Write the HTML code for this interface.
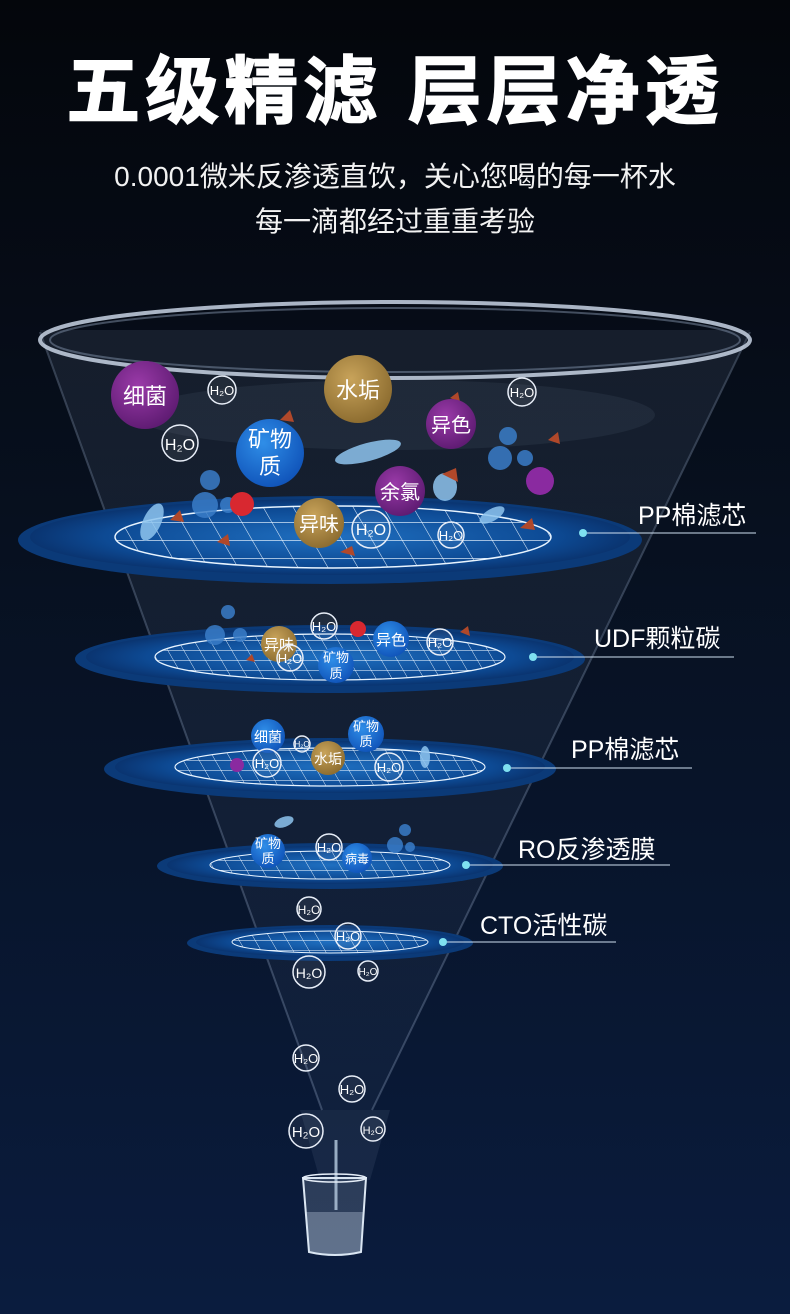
<!DOCTYPE html>
<html><head><meta charset="utf-8"><style>
html,body{margin:0;padding:0;background:#050810;}
svg{display:block}
text{font-family:"Liberation Sans","Noto Sans CJK SC",sans-serif;}
</style></head><body>
<svg width="790" height="1314" viewBox="0 0 790 1314" xmlns="http://www.w3.org/2000/svg">
<defs>
<linearGradient id="bg" x1="0" y1="0" x2="0" y2="1">
<stop offset="0" stop-color="#04060b"/><stop offset="0.4" stop-color="#07101f"/><stop offset="1" stop-color="#0a1c3e"/></linearGradient>
<linearGradient id="cone" x1="0" y1="0" x2="0" y2="1">
<stop offset="0" stop-color="#8aa0c0" stop-opacity="0.12"/><stop offset="1" stop-color="#8aa0c0" stop-opacity="0.05"/></linearGradient>
<radialGradient id="disc" cx="0.5" cy="0.5" r="0.5">
<stop offset="0" stop-color="#1f6fc0"/><stop offset="0.75" stop-color="#0d4a94"/><stop offset="1" stop-color="#0a3470"/></radialGradient>
<radialGradient id="purple" cx="0.4" cy="0.35" r="0.7"><stop offset="0" stop-color="#9a3aa8"/><stop offset="1" stop-color="#5c1a70"/></radialGradient>
<radialGradient id="gold" cx="0.4" cy="0.35" r="0.7"><stop offset="0" stop-color="#c8a35a"/><stop offset="1" stop-color="#8a6a2e"/></radialGradient>
<radialGradient id="blue" cx="0.4" cy="0.35" r="0.7"><stop offset="0" stop-color="#2f8ee8"/><stop offset="1" stop-color="#0f52b8"/></radialGradient>
<pattern id="grid" width="30" height="18" patternUnits="userSpaceOnUse" patternTransform="skewX(30)">
<path d="M0 0H30M0 0V18" stroke="#e8f4ff" stroke-width="1.2" fill="none"/></pattern>
<pattern id="grids" width="16" height="10" patternUnits="userSpaceOnUse" patternTransform="skewX(30)">
<path d="M0 0H16M0 0V10" stroke="#e8f4ff" stroke-width="1" fill="none"/></pattern>
</defs>
<rect width="790" height="1314" fill="url(#bg)"/>
<polygon points="40,330 750,330 372,1110 322,1110" fill="url(#cone)"/>
<line x1="40" y1="332" x2="322" y2="1110" stroke="#9fb4d0" stroke-opacity="0.3" stroke-width="2"/>
<line x1="750" y1="332" x2="372" y2="1110" stroke="#9fb4d0" stroke-opacity="0.3" stroke-width="2"/>
<ellipse cx="395" cy="415" rx="260" ry="35" fill="#6a7a90" fill-opacity="0.12"/>
<ellipse cx="395" cy="340" rx="355" ry="38" fill="none" stroke="#c8d4e4" stroke-width="4" stroke-opacity="0.85"/>
<ellipse cx="395" cy="340" rx="345" ry="32" fill="none" stroke="#8090a8" stroke-width="2" stroke-opacity="0.5"/>
<polygon points="300,1110 390,1110 370,1180 320,1180" fill="#c0d4ee" fill-opacity="0.08"/>

<text x="395" y="117" font-size="74" font-weight="bold" fill="#fff" text-anchor="middle" letter-spacing="5" stroke="#fff" stroke-width="1.5">五级精滤 层层净透</text>
<text x="395" y="186" font-size="28" fill="#f2f2f2" text-anchor="middle">0.0001微米反渗透直饮，关心您喝的每一杯水</text>
<text x="395" y="231" font-size="28" fill="#f2f2f2" text-anchor="middle">每一滴都经过重重考验</text>

<g>
<ellipse cx="330" cy="540" rx="312" ry="44" fill="#0b3a78"/>
<ellipse cx="330" cy="537" rx="300" ry="38" fill="url(#disc)"/>
<clipPath id="c1"><ellipse cx="333" cy="537" rx="218" ry="31"/></clipPath>
<rect x="100" y="500" width="470" height="80" fill="url(#grid)" clip-path="url(#c1)"/>
<ellipse cx="333" cy="537" rx="218" ry="31" fill="none" stroke="#e8f4ff" stroke-width="1.5"/>
</g>
<g>
<ellipse cx="330" cy="659" rx="255" ry="34" fill="#0b3a78"/>
<ellipse cx="330" cy="657" rx="244" ry="29" fill="url(#disc)"/>
<clipPath id="c2"><ellipse cx="330" cy="657" rx="175" ry="23"/></clipPath>
<rect x="150" y="630" width="360" height="60" fill="url(#grids)" clip-path="url(#c2)"/>
<ellipse cx="330" cy="657" rx="175" ry="23" fill="none" stroke="#e8f4ff" stroke-width="1.2"/>
</g>
<g>
<ellipse cx="330" cy="769" rx="226" ry="31" fill="#0b3a78"/>
<ellipse cx="330" cy="767" rx="215" ry="26" fill="url(#disc)"/>
<clipPath id="c3"><ellipse cx="330" cy="767" rx="155" ry="19"/></clipPath>
<rect x="170" y="745" width="320" height="45" fill="url(#grids)" clip-path="url(#c3)"/>
<ellipse cx="330" cy="767" rx="155" ry="19" fill="none" stroke="#e8f4ff" stroke-width="1.2"/>
</g>
<g>
<ellipse cx="330" cy="866" rx="173" ry="23" fill="#0b3a78"/>
<ellipse cx="330" cy="865" rx="163" ry="19" fill="url(#disc)"/>
<clipPath id="c4"><ellipse cx="330" cy="865" rx="120" ry="14"/></clipPath>
<rect x="205" y="848" width="250" height="35" fill="url(#grids)" clip-path="url(#c4)"/>
<ellipse cx="330" cy="865" rx="120" ry="14" fill="none" stroke="#e8f4ff" stroke-width="1"/>
</g>
<g>
<ellipse cx="330" cy="943" rx="143" ry="18" fill="#0b3a78"/>
<ellipse cx="330" cy="942" rx="134" ry="15" fill="url(#disc)"/>
<clipPath id="c5"><ellipse cx="330" cy="942" rx="98" ry="11"/></clipPath>
<rect x="228" y="928" width="205" height="28" fill="url(#grids)" clip-path="url(#c5)"/>
<ellipse cx="330" cy="942" rx="98" ry="11" fill="none" stroke="#e8f4ff" stroke-width="1"/>
</g>

<g fill="#fff" font-size="25">
<text x="638" y="524">PP棉滤芯</text>
<text x="594" y="647">UDF颗粒碳</text>
<text x="571" y="758">PP棉滤芯</text>
<text x="518" y="858">RO反渗透膜</text>
<text x="480" y="934">CTO活性碳</text>
</g>
<g stroke="#cfe0f0" stroke-width="1">
<line x1="583" y1="533" x2="756" y2="533"/>
<line x1="533" y1="657" x2="734" y2="657"/>
<line x1="507" y1="768" x2="692" y2="768"/>
<line x1="466" y1="865" x2="670" y2="865"/>
<line x1="443" y1="942" x2="616" y2="942"/>
</g>
<g fill="#7fe0f0">
<circle cx="583" cy="533" r="4"/><circle cx="533" cy="657" r="4"/><circle cx="507" cy="768" r="4"/><circle cx="466" cy="865" r="4"/><circle cx="443" cy="942" r="4"/>
</g>

<g fill="#3a7cc8" fill-opacity="0.85">
<circle cx="210" cy="480" r="10"/><circle cx="205" cy="505" r="13"/><circle cx="228" cy="505" r="8"/>
<circle cx="508" cy="436" r="9"/><circle cx="500" cy="458" r="12"/><circle cx="525" cy="458" r="8"/>
<circle cx="215" cy="635" r="10"/><circle cx="228" cy="612" r="7"/><circle cx="240" cy="635" r="7"/>
<circle cx="395" cy="845" r="8"/><circle cx="405" cy="830" r="6"/><circle cx="410" cy="847" r="5"/>
</g>
<circle cx="242" cy="504" r="12" fill="#d82830"/>
<circle cx="358" cy="629" r="8" fill="#d82830"/>
<circle cx="540" cy="481" r="14" fill="#8a2aa0"/>
<circle cx="237" cy="765" r="7" fill="#8a2aa0"/>
<g fill="#8ec4ee" fill-opacity="0.85">
<ellipse cx="368" cy="452" rx="34" ry="9" transform="rotate(-15 368 452)"/>
<ellipse cx="152" cy="522" rx="9" ry="20" transform="rotate(25 152 522)"/>
<ellipse cx="492" cy="515" rx="14" ry="6" transform="rotate(-30 492 515)"/>
<ellipse cx="445" cy="487" rx="12" ry="14"/>
<ellipse cx="425" cy="757" rx="5" ry="11"/>
<ellipse cx="284" cy="822" rx="10" ry="5" transform="rotate(-20 284 822)"/>
</g>
<g fill="#b0482a">
<polygon points="280,420 290,410 294,422"/><polygon points="170,520 180,510 184,522"/><polygon points="217,542 228,534 230,546"/>
<polygon points="548,440 558,432 560,444"/><polygon points="520,528 532,518 535,530"/><polygon points="442,474 456,468 458,482"/>
<polygon points="340,552 352,546 355,556"/><polygon points="460,632 468,626 470,636"/><polygon points="246,660 252,654 255,662"/>
<polygon points="450,398 458,392 460,402"/>
</g>

<g font-size="22" fill="#fff" text-anchor="middle">
<circle cx="145" cy="395" r="34" fill="url(#purple)"/><text x="145" y="404">细菌</text>
<circle cx="358" cy="389" r="34" fill="url(#gold)"/><text x="358" y="398">水垢</text>
<circle cx="270" cy="453" r="34" fill="url(#blue)"/><text x="270" y="447">矿物</text><text x="270" y="474">质</text>
<circle cx="451" cy="424" r="25" fill="url(#purple)"/><text x="451" y="432" font-size="20">异色</text>
<circle cx="400" cy="491" r="25" fill="url(#purple)"/><text x="400" y="499" font-size="20">余氯</text>
<circle cx="319" cy="523" r="25" fill="url(#gold)"/><text x="319" y="531" font-size="20">异味</text>
<circle cx="279" cy="644" r="18" fill="url(#gold)"/><text x="279" y="650" font-size="15">异味</text>
<circle cx="391" cy="639" r="18" fill="url(#blue)"/><text x="391" y="645" font-size="15">异色</text>
<circle cx="336" cy="665" r="18" fill="url(#blue)"/><text x="336" y="662" font-size="13">矿物</text><text x="336" y="678" font-size="13">质</text>
<circle cx="268" cy="736" r="17" fill="url(#blue)"/><text x="268" y="742" font-size="14">细菌</text>
<circle cx="366" cy="734" r="18" fill="url(#blue)"/><text x="366" y="731" font-size="13">矿物</text><text x="366" y="746" font-size="13">质</text>
<circle cx="328" cy="758" r="17" fill="url(#gold)"/><text x="328" y="764" font-size="14">水垢</text>
<circle cx="268" cy="851" r="17" fill="url(#blue)"/><text x="268" y="848" font-size="13">矿物</text><text x="268" y="863" font-size="13">质</text>
<circle cx="357" cy="858" r="15" fill="url(#blue)"/><text x="357" y="863" font-size="12">病毒</text>
</g>

<g fill="#ffffff" fill-opacity="0.06" stroke="#e8eef8" stroke-width="1.5">
<circle cx="222" cy="390" r="14"/><circle cx="180" cy="443" r="18"/><circle cx="522" cy="392" r="14"/>
<circle cx="371" cy="529" r="19"/><circle cx="451" cy="535" r="13"/><circle cx="324" cy="626" r="13"/>
<circle cx="290" cy="658" r="13"/><circle cx="440" cy="642" r="13"/><circle cx="302" cy="744" r="8"/>
<circle cx="267" cy="763" r="14"/><circle cx="389" cy="767" r="14"/><circle cx="329" cy="847" r="13"/>
<circle cx="309" cy="909" r="12"/><circle cx="348" cy="936" r="13"/><circle cx="309" cy="972" r="16"/>
<circle cx="368" cy="971" r="10"/><circle cx="306" cy="1058" r="13"/><circle cx="352" cy="1089" r="13"/>
<circle cx="306" cy="1131" r="17"/><circle cx="373" cy="1129" r="12"/>
</g>
<g fill="#ffffff" font-size="13" text-anchor="middle">
<text x="222" y="395">H₂O</text><text x="180" y="450" font-size="16">H₂O</text><text x="522" y="397">H₂O</text>
<text x="371" y="535" font-size="16">H₂O</text><text x="451" y="540">H₂O</text><text x="324" y="631">H₂O</text>
<text x="290" y="663">H₂O</text><text x="440" y="647">H₂O</text><text x="302" y="747" font-size="8">H₂O</text>
<text x="267" y="768">H₂O</text><text x="389" y="772">H₂O</text><text x="329" y="852">H₂O</text>
<text x="309" y="914" font-size="12">H₂O</text><text x="348" y="941">H₂O</text><text x="309" y="978" font-size="14">H₂O</text>
<text x="368" y="975" font-size="10">H₂O</text><text x="306" y="1063">H₂O</text><text x="352" y="1094">H₂O</text>
<text x="306" y="1137" font-size="15">H₂O</text><text x="373" y="1134" font-size="11">H₂O</text>
</g>

<line x1="336" y1="1140" x2="336" y2="1210" stroke="#cfe4f8" stroke-width="3" stroke-opacity="0.7"/>
<path d="M303 1178 L366 1178 L361 1252 Q335 1258 309 1252 Z" fill="#b8cce0" fill-opacity="0.2" stroke="#dbe6f2" stroke-width="2"/>
<path d="M306 1212 L363 1212 L361 1252 Q335 1258 309 1252 Z" fill="#d8e8f8" fill-opacity="0.3"/>
<ellipse cx="334.5" cy="1178" rx="31.5" ry="4" fill="none" stroke="#e6eef8" stroke-width="1.5"/>
</svg>
</body></html>
